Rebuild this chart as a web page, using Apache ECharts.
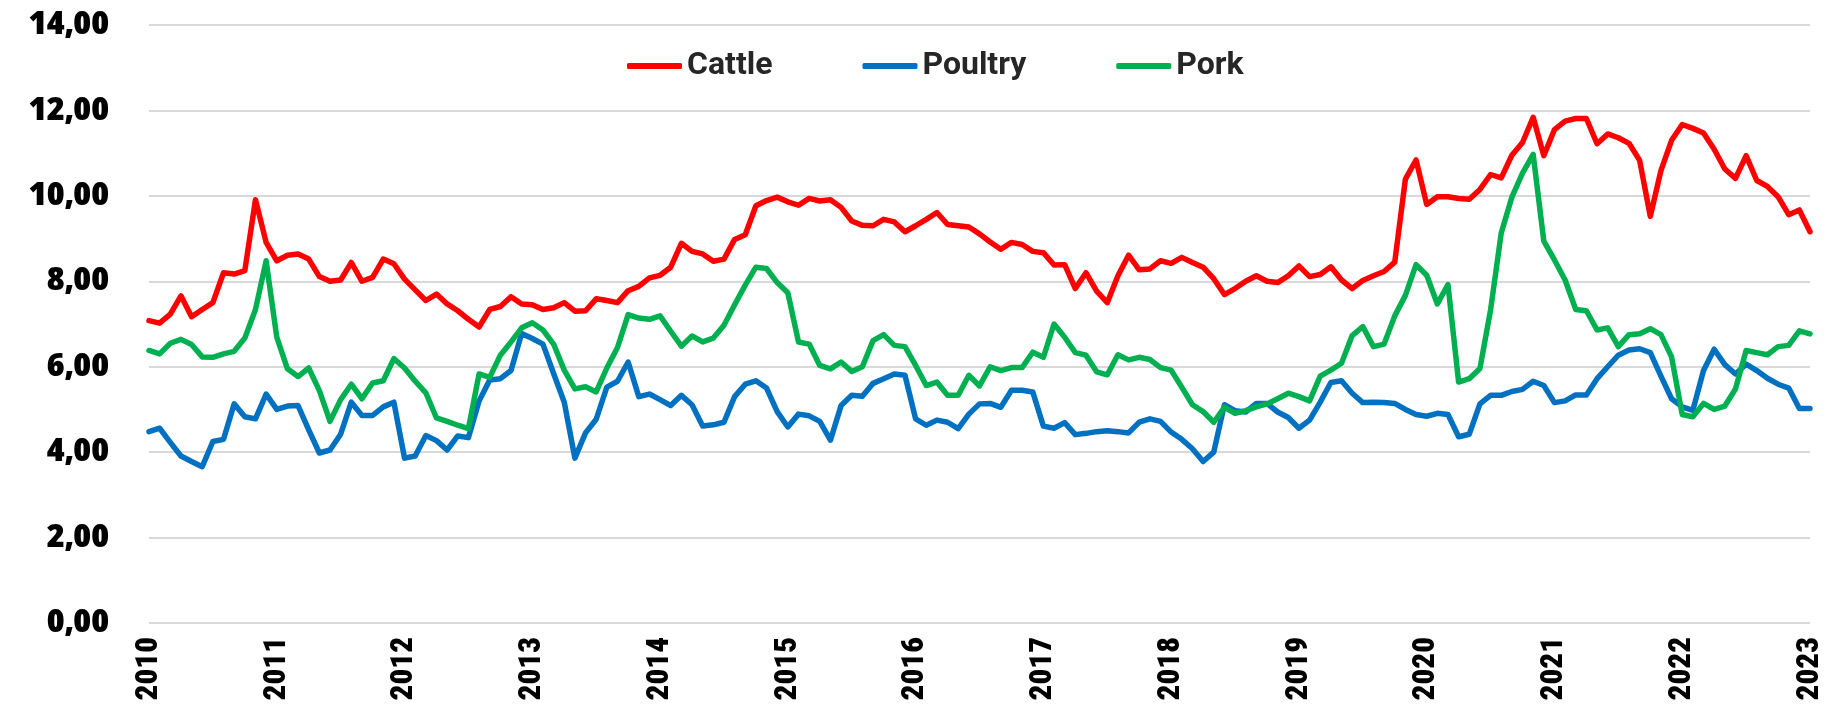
<!DOCTYPE html>
<html>
<head>
<meta charset="utf-8">
<script src="https://cdn.jsdelivr.net/npm/echarts@6/dist/echarts.min.js"></script>
<style>
  html, body { margin: 0; padding: 0; background: #fff; }
  #chart { width: 1828px; height: 722px; }
</style>
</head>
<body>
<div id="chart"></div>
<script>
// years shown on the x axis (one label per January)
const years = ['2010', '2011', '2012', '2013', '2014', '2015', '2016',
  '2017', '2018', '2019', '2020', '2021', '2022', '2023'];

// monthly values, Jan 2010 .. Jan 2023
const cattle = [
  7.08, 7.02, 7.23, 7.66, 7.17, 7.34, 7.50, 8.20, 8.17, 8.25, 9.91, 8.91,
  8.48, 8.61, 8.64, 8.52, 8.11, 8.00, 8.03, 8.44, 8.00, 8.09, 8.52, 8.41,
  8.05, 7.80, 7.55, 7.70, 7.47, 7.31, 7.11, 6.93, 7.34, 7.41, 7.64, 7.47,
  7.45, 7.34, 7.38, 7.50, 7.30, 7.31, 7.59, 7.55, 7.50, 7.78, 7.88, 8.08,
  8.14, 8.33, 8.89, 8.70, 8.64, 8.47, 8.52, 8.98, 9.09, 9.77, 9.89, 9.97,
  9.86, 9.78, 9.94, 9.88, 9.91, 9.73, 9.41, 9.31, 9.30, 9.45, 9.39, 9.16,
  9.30, 9.45, 9.61, 9.33, 9.30, 9.27, 9.11, 8.92, 8.75, 8.91, 8.86, 8.70,
  8.67, 8.38, 8.39, 7.83, 8.20, 7.77, 7.50, 8.13, 8.61, 8.27, 8.29, 8.48,
  8.42, 8.56, 8.44, 8.33, 8.06, 7.69, 7.83, 8.00, 8.13, 8.00, 7.97, 8.13,
  8.36, 8.11, 8.16, 8.34, 8.03, 7.83, 8.02, 8.13, 8.23, 8.45, 10.39, 10.84,
  9.80, 9.98, 9.98, 9.94, 9.92, 10.15, 10.50, 10.42, 10.95, 11.25, 11.84, 10.94,
  11.55, 11.75, 11.81, 11.81, 11.22, 11.45, 11.36, 11.23, 10.83, 9.52, 10.59, 11.30,
  11.67, 11.58, 11.47, 11.09, 10.63, 10.41, 10.94, 10.36, 10.22, 9.98, 9.56, 9.67,
  9.16
];

const poultry = [
  4.48, 4.56, 4.23, 3.91, 3.78, 3.66, 4.25, 4.30, 5.13, 4.83, 4.78, 5.36,
  5.00, 5.08, 5.09, 4.52, 3.98, 4.05, 4.42, 5.17, 4.86, 4.86, 5.06, 5.17,
  3.86, 3.91, 4.39, 4.27, 4.05, 4.38, 4.34, 5.20, 5.69, 5.72, 5.91, 6.78,
  6.66, 6.53, 5.84, 5.17, 3.86, 4.45, 4.77, 5.52, 5.66, 6.11, 5.30, 5.36,
  5.23, 5.09, 5.33, 5.11, 4.61, 4.64, 4.70, 5.30, 5.59, 5.67, 5.50, 4.95,
  4.59, 4.89, 4.85, 4.72, 4.28, 5.09, 5.33, 5.31, 5.61, 5.72, 5.83, 5.80,
  4.78, 4.63, 4.75, 4.70, 4.55, 4.89, 5.13, 5.14, 5.05, 5.45, 5.45, 5.41,
  4.61, 4.56, 4.69, 4.41, 4.44, 4.48, 4.50, 4.48, 4.45, 4.70, 4.78, 4.72,
  4.47, 4.30, 4.08, 3.78, 4.00, 5.11, 4.97, 4.94, 5.14, 5.14, 4.94, 4.81,
  4.56, 4.75, 5.17, 5.63, 5.67, 5.38, 5.16, 5.17, 5.16, 5.14, 5.00, 4.88,
  4.84, 4.91, 4.88, 4.36, 4.42, 5.13, 5.33, 5.33, 5.42, 5.47, 5.66, 5.56,
  5.16, 5.20, 5.34, 5.34, 5.72, 6.00, 6.27, 6.39, 6.42, 6.33, 5.78, 5.25,
  5.06, 4.98, 5.91, 6.41, 6.05, 5.83, 6.06, 5.91, 5.73, 5.59, 5.50, 5.02,
  5.02
];

const pork = [
  6.38, 6.30, 6.55, 6.64, 6.52, 6.23, 6.22, 6.30, 6.36, 6.67, 7.34, 8.48,
  6.69, 5.95, 5.77, 5.97, 5.44, 4.72, 5.23, 5.59, 5.25, 5.62, 5.67, 6.19,
  5.97, 5.66, 5.39, 4.80, 4.72, 4.63, 4.55, 5.83, 5.75, 6.27, 6.58, 6.91,
  7.03, 6.86, 6.53, 5.92, 5.48, 5.53, 5.41, 5.97, 6.45, 7.22, 7.14, 7.11,
  7.19, 6.83, 6.48, 6.72, 6.58, 6.67, 6.97, 7.45, 7.91, 8.33, 8.30, 7.97,
  7.73, 6.58, 6.53, 6.03, 5.95, 6.11, 5.89, 6.00, 6.61, 6.75, 6.50, 6.47,
  6.03, 5.56, 5.64, 5.33, 5.33, 5.80, 5.55, 6.00, 5.91, 5.98, 5.98, 6.34,
  6.22, 7.00, 6.69, 6.33, 6.27, 5.88, 5.81, 6.28, 6.16, 6.22, 6.17, 5.98,
  5.92, 5.52, 5.11, 4.95, 4.70, 5.05, 4.91, 4.97, 5.06, 5.13, 5.25, 5.38,
  5.30, 5.20, 5.78, 5.92, 6.08, 6.73, 6.94, 6.47, 6.53, 7.19, 7.67, 8.39,
  8.14, 7.47, 7.92, 5.64, 5.72, 5.96, 7.33, 9.13, 9.97, 10.53, 10.97, 8.94,
  8.50, 8.03, 7.34, 7.31, 6.86, 6.91, 6.47, 6.75, 6.77, 6.89, 6.75, 6.23,
  4.88, 4.83, 5.14, 5.00, 5.08, 5.48, 6.38, 6.33, 6.28, 6.47, 6.50, 6.84,
  6.77
];

// one category per month, the last one is Jan 2023
const months = [];
years.forEach((y, yi) => {
  const n = yi === years.length - 1 ? 1 : 12;
  for (let m = 1; m <= n; m++) {
    months.push(y + '-' + String(m).padStart(2, '0'));
  }
});

const chart = echarts.init(document.getElementById('chart'));

const lineSeries = (name, data, color) => ({
  name: name,
  type: 'line',
  data: data,
  symbol: 'none',
  lineStyle: { width: 5.5, color: color, cap: 'round', join: 'round' },
  itemStyle: { color: color },
});

const option = {
  animation: false,
  backgroundColor: '#fff',
  legend: {
    left: 622,
    top: 45,
    icon: 'roundRect',
    itemWidth: 55,
    itemHeight: 6,
    itemGap: 90,
    textStyle: {
      fontFamily: 'Roboto',
      fontWeight: 'bold',
      fontSize: 32,
      color: '#262626',
    },
    data: ['Cattle', 'Poultry', 'Pork'],
  },
  grid: {
    left: 149,
    right: 18,
    top: 25,
    bottom: 99,
  },
  xAxis: {
    type: 'category',
    boundaryGap: false,
    data: months,
    axisLine: { show: false },
    axisTick: { show: false },
    splitLine: { show: false },
    axisLabel: {
      rotate: 90,
      margin: 14,
      interval: (index) => index % 12 === 0,
      formatter: (v) => v.slice(0, 4),
      fontFamily: 'Roboto Condensed',
      fontWeight: 900,
      fontSize: 31,
      color: '#000',
    },
  },
  yAxis: {
    type: 'value',
    min: 0,
    max: 14,
    interval: 2,
    axisLine: { show: false },
    axisTick: { show: false },
    splitLine: { lineStyle: { color: '#D9D9D9', width: 2 } },
    axisLabel: {
      margin: 40,
      formatter: (v) => v.toFixed(2).replace('.', ','),
      fontFamily: 'Noto Sans Display',
      fontWeight: 900,
      fontSize: 32,
      color: '#000',
    },
  },
  series: [
    lineSeries('Cattle', cattle, '#FF0000'),
    lineSeries('Poultry', poultry, '#0070C0'),
    lineSeries('Pork', pork, '#00B050'),
  ],
};

chart.setOption(option);
</script>
</body>
</html>
